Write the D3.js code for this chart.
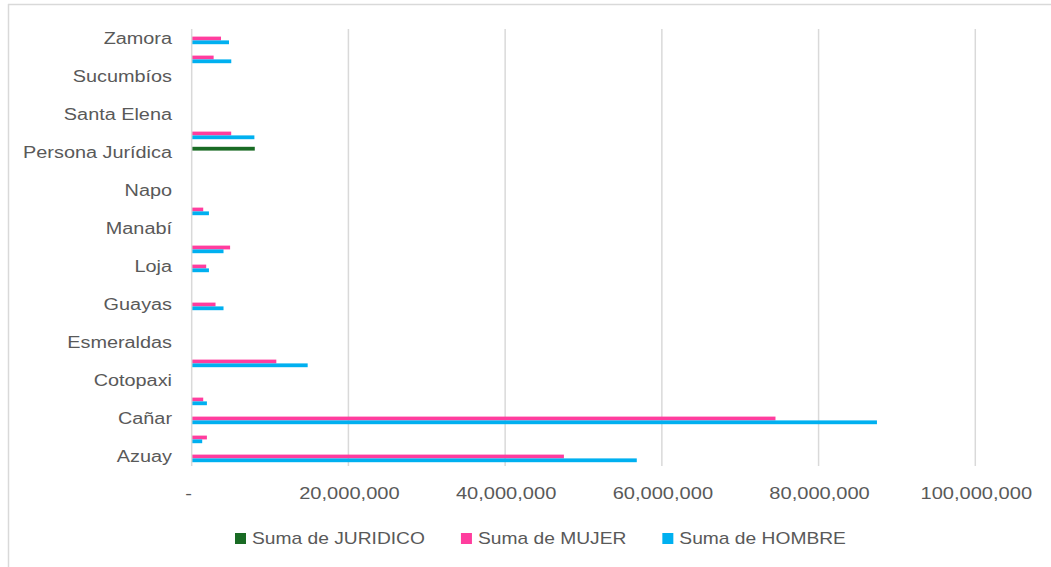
<!DOCTYPE html>
<html>
<head>
<meta charset="utf-8">
<script src="https://cdn.jsdelivr.net/npm/d3@7"></script>
<style>
  html, body { margin: 0; padding: 0; background: #fff; }
</style>
</head>
<body>
<div id="chart"></div>
<script>
// Categories in sheet order (Azuay is drawn at the bottom)
var categories = ['Azuay', 'Bolívar', 'Cañar', 'Chimborazo', 'Cotopaxi', 'El Oro', 'Esmeraldas', 'Galápagos',
  'Guayas', 'Imbabura', 'Loja', 'Los Ríos', 'Manabí', 'Morona Santiago', 'Napo', 'Pastaza',
  'Persona Jurídica', 'Pichincha', 'Santa Elena', 'Santo Domingo', 'Sucumbíos', 'Tungurahua', 'Zamora'];
var juridico = [null, null, null, null, null, null, null, null, null, null, null, null, null, null, null, null,
  8050000, null, null, null, null, null, null];
var mujer = [47500000, 1940000, 74500000, 1470000, null, 10800000, null, null, 3040000, null, 1850000, 4900000,
  null, 1470000, null, null, null, 5040000, null, null, null, 2800000, 3740000];
var hombre = [56800000, 1340000, 87450000, 1940000, null, 14800000, null, null, 4060000, null, 2200000, 4060000,
  null, 2200000, null, null, null, 8000000, null, null, null, 5050000, 4760000];
var seriesNames = ['Suma de JURIDICO', 'Suma de MUJER', 'Suma de HOMBRE'];
var seriesColors = ['#196B24', '#FF3D9E', '#00B0F0'];
var xTicks = [0, 20000000, 40000000, 60000000, 80000000, 100000000];

var FONT = '"Liberation Sans", Arial, sans-serif';
var TEXT = '#595959';
var GRID = '#d9d9d9';
var w = 1051, h = 567;

var svg = d3.select('#chart').append('svg').attr('width', w).attr('height', h)
  .style('display', 'block');

// stretch text horizontally to mimic the wider rendering of the original
function stretch(sel, f) {
  sel.each(function() {
    var len = this.getComputedTextLength();
    d3.select(this).attr('textLength', len * f).attr('lengthAdjust', 'spacingAndGlyphs');
  });
}

// chart frame (only top and left edges visible)
svg.append('line').attr('x1', 8).attr('x2', w).attr('y1', 4.5).attr('y2', 4.5)
  .attr('stroke', GRID).attr('stroke-width', 1.5);
svg.append('line').attr('x1', 8.5).attr('x2', 8.5).attr('y1', 4).attr('y2', h)
  .attr('stroke', GRID).attr('stroke-width', 1.5);

var x = d3.scaleLinear().domain([0, 100000000]).range([191.7, 975.3]);
var y = d3.scaleBand().domain(categories.slice().reverse()).range([29, 466]).paddingInner(0).paddingOuter(0);
var ys = d3.scaleBand().domain(seriesNames).range([-5.7, 5.7]);

// gridlines
svg.append('g').selectAll('line').data(xTicks.slice(1)).join('line')
  .attr('x1', function(d) { return x(d); }).attr('x2', function(d) { return x(d); })
  .attr('y1', 29).attr('y2', 466)
  .attr('stroke', GRID).attr('stroke-width', 1.5);

// bars
var series = [juridico, mujer, hombre];
series.forEach(function(vals, si) {
  var rows = categories.map(function(c, i) { return { cat: c, v: vals[i] }; })
    .filter(function(d) { return d.v != null; });
  svg.append('g').selectAll('rect').data(rows).join('rect')
    .attr('x', x(0))
    .attr('y', function(d) { return y(d.cat) + y.bandwidth() / 2 + ys(seriesNames[si]); })
    .attr('width', function(d) { return x(d.v) - x(0); })
    .attr('height', ys.bandwidth())
    .attr('fill', seriesColors[si]);
});

// vertical axis line
svg.append('line').attr('x1', x(0)).attr('x2', x(0)).attr('y1', 29).attr('y2', 466)
  .attr('stroke', GRID).attr('stroke-width', 1.5);

// category labels (every other one, like the original)
var catLabels = svg.append('g').selectAll('text')
  .data(categories.filter(function(c, i) { return i % 2 === 0; })).join('text')
  .attr('x', 172)
  .attr('y', function(d) { return y(d) + y.bandwidth() / 2; })
  .attr('dy', '0.36em')
  .attr('text-anchor', 'end')
  .attr('font-family', FONT).attr('font-size', '16px').attr('fill', TEXT)
  .text(function(d) { return d; });
stretch(catLabels, 1.24);

// x tick labels
var fmt = d3.format(',');
var tickLabels = svg.append('g').selectAll('text').data(xTicks).join('text')
  .attr('x', function(d) { return d === 0 ? x(d) - 3 : x(d) + 1; })
  .attr('y', 493).attr('dy', '0.36em')
  .attr('text-anchor', 'middle')
  .attr('font-family', FONT).attr('font-size', '17px').attr('fill', TEXT)
  .text(function(d) { return d === 0 ? '-' : fmt(d); });
stretch(tickLabels, 1.18);

// legend
var lg = svg.append('g');
var lx = 235;
seriesNames.forEach(function(name, i) {
  lg.append('rect').attr('x', lx).attr('y', 533).attr('width', 11).attr('height', 11)
    .attr('fill', seriesColors[i]);
  var t = lg.append('text').attr('x', lx + 17).attr('y', 538).attr('dy', '0.36em')
    .attr('font-family', FONT).attr('font-size', '17px').attr('fill', TEXT)
    .text(name);
  stretch(t, 1.13);
  lx = lx + 17 + +t.attr('textLength') + 36;
});
</script>
</body>
</html>
